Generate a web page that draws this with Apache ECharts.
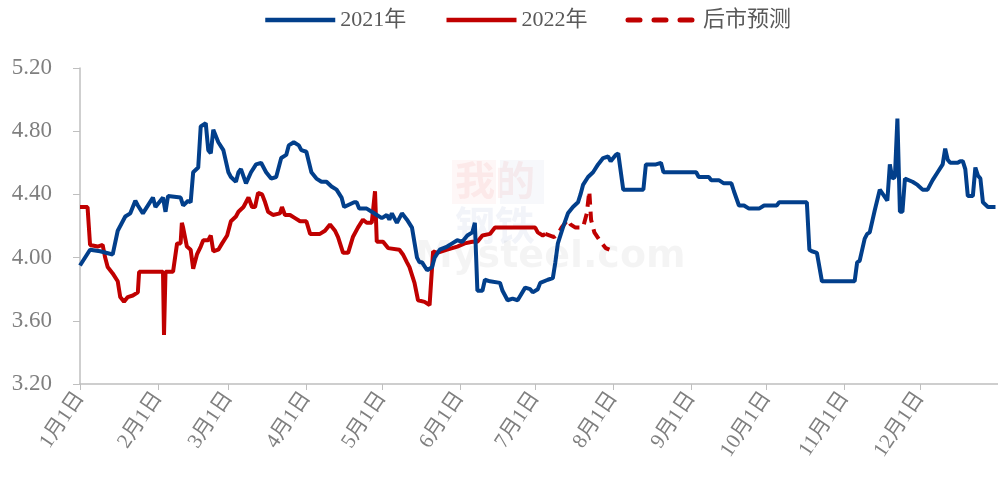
<!DOCTYPE html>
<html>
<head>
<meta charset="utf-8">
<script src="https://cdn.jsdelivr.net/npm/echarts@6/dist/echarts.min.js"></script>
<style>
html,body{margin:0;padding:0;background:#fff;}
#c{width:998px;height:484px;}
</style>
</head>
<body>
<div id="c"></div>
<script>
// x = day of year (0 = 1月1日), y = price
const monthStarts = [0, 31, 59, 90, 120, 151, 181, 212, 243, 273, 304, 334];
const monthLabels = ['1月1日','2月1日','3月1日','4月1日','5月1日','6月1日','7月1日','8月1日','9月1日','10月1日','11月1日','12月1日'];
const yTicks = [3.2, 3.6, 4.0, 4.4, 4.8, 5.2];

const days2021 = [0,4,8,13,15,18,20,22,23,25,29,30,33,34,35,40,41,43,44,45,47,48,50,51,52,53,55,57,59,60,62,63,64,66,68,70,72,74,76,78,80,82,83,85,87,88,90,92,94,96,98,100,102,104,105,109,110,111,114,116,118,120,122,123,124,126,128,130,132,134,135,136,138,140,141,143,146,148,150,152,154,156,157,158,160,161,163,167,168,170,172,174,177,179,180,182,183,186,188,189,190,192,194,196,198,199,200,202,204,206,208,210,211,213,214,216,224,225,229,231,232,245,246,250,251,254,256,259,260,262,264,266,270,272,277,278,289,290,291,293,295,308,309,310,312,313,314,316,318,321,322,323,324,325,326,327,328,331,333,335,337,339,341,343,344,345,346,349,350,351,352,353,355,356,357,358,359,361,364];
const vals2021 = [3.95,4.05,4.04,4.02,4.17,4.26,4.28,4.36,4.33,4.28,4.38,4.32,4.38,4.29,4.39,4.38,4.33,4.36,4.35,4.54,4.57,4.83,4.85,4.68,4.66,4.81,4.73,4.68,4.54,4.51,4.48,4.54,4.56,4.47,4.54,4.59,4.60,4.54,4.50,4.51,4.63,4.65,4.71,4.73,4.71,4.68,4.67,4.54,4.50,4.48,4.48,4.45,4.43,4.38,4.32,4.35,4.35,4.31,4.31,4.29,4.27,4.25,4.27,4.24,4.28,4.22,4.28,4.24,4.19,4.00,3.97,3.97,3.92,3.94,4.00,4.05,4.07,4.09,4.11,4.10,4.14,4.16,4.22,3.79,3.79,3.86,3.85,3.84,3.79,3.73,3.74,3.73,3.81,3.80,3.78,3.80,3.84,3.86,3.87,3.97,4.09,4.19,4.28,4.32,4.35,4.40,4.46,4.51,4.54,4.59,4.63,4.64,4.61,4.65,4.66,4.43,4.43,4.59,4.59,4.60,4.54,4.54,4.51,4.51,4.49,4.49,4.47,4.47,4.42,4.33,4.33,4.31,4.31,4.33,4.33,4.35,4.35,4.05,4.04,4.03,3.85,3.85,3.97,3.98,4.12,4.15,4.16,4.30,4.43,4.36,4.59,4.50,4.51,4.88,4.29,4.29,4.50,4.48,4.46,4.43,4.43,4.49,4.54,4.59,4.69,4.62,4.60,4.60,4.61,4.61,4.56,4.39,4.39,4.57,4.52,4.50,4.35,4.32,4.32];

const days2022 = [0,3,4,7,9,10,11,13,15,16,17.5,19,21,23,23.5,25,33,33.4,34,37,38.6,40,40.5,41,42.5,44,45,46.5,48,49,51,52,53,55,56.5,58.5,60,62,63,65,67,68.4,69.6,70.8,72.4,73.6,74.8,76.7,79.5,80.3,81.5,83.5,85.5,87.5,90,91.5,95.4,97.4,99.4,101.4,102.6,104.6,106.6,108.5,110.5,112.5,114,116,117.3,118,120.5,122.5,127,128.4,130,131,133,134.4,137,139,140.4,142,146,148,150,153,156,158,160,163,165,167,181,182,184,185];
const vals2022 = [4.32,4.32,4.08,4.07,4.08,4.00,3.94,3.90,3.85,3.75,3.72,3.75,3.76,3.78,3.91,3.91,3.91,3.51,3.91,3.91,4.09,4.09,4.22,4.19,4.07,4.05,3.93,4.02,4.07,4.11,4.11,4.14,4.04,4.05,4.09,4.14,4.23,4.26,4.29,4.32,4.38,4.32,4.32,4.41,4.40,4.35,4.29,4.27,4.28,4.32,4.27,4.27,4.25,4.23,4.23,4.15,4.15,4.17,4.21,4.17,4.13,4.03,4.03,4.13,4.19,4.24,4.22,4.22,4.42,4.10,4.10,4.06,4.05,4.02,3.97,3.94,3.84,3.73,3.72,3.70,4.04,4.03,4.05,4.06,4.07,4.09,4.10,4.10,4.14,4.15,4.19,4.19,4.19,4.16,4.14,4.15];

const daysForecast = [185,188.5,190,191.5,194,195,197,200,201.5,202.5,203.2,204.5,207,209,210.5];
const valsForecast = [4.15,4.13,4.15,4.19,4.24,4.21,4.19,4.19,4.28,4.42,4.24,4.16,4.10,4.06,4.05];

const zip = (a, b) => a.map((d, i) => [d, b[i]]);

const BLUE = '#023F8B';
const RED = '#C00000';
const GRAY = '#7f7f7f';
const AXIS = '#bfbfbf';
const FONT = '"Liberation Serif","Noto Sans CJK SC",serif';

const chart = echarts.init(document.getElementById('c'), null, {renderer: 'canvas'});
chart.setOption({
  animation: false,
  backgroundColor: '#fff',
  textStyle: {fontFamily: FONT},
  graphic: [
    {type: 'rect', left: 452, top: 160, shape: {width: 44, height: 44}, style: {fill: 'rgba(220,60,60,0.04)'}},
    {type: 'rect', left: 500, top: 160, shape: {width: 44, height: 44}, style: {fill: 'rgba(40,70,150,0.035)'}},
    {type: 'text', left: 455, top: 160, style: {text: '我的', fill: 'rgba(220,60,60,0.07)', font: 'bold 40px "Noto Sans CJK SC"'}},
    {type: 'text', left: 455, top: 205, style: {text: '钢铁', fill: 'rgba(40,70,150,0.06)', font: 'bold 40px "Noto Sans CJK SC"'}},
    {type: 'text', left: 415, top: 238, style: {text: 'Mysteel.com', fill: 'rgba(0,0,0,0.045)', font: 'bold 38px "DejaVu Sans"'}}
  ],
  legend: {
    left: 258,
    top: 4,
    itemWidth: 70,
    itemHeight: 14,
    itemGap: 38,
    itemStyle: {opacity: 0},
    lineStyle: {width: 4.5},
    textStyle: {fontFamily: FONT, fontSize: 22, color: '#595959'},
    data: [
      {name: '2021年'},
      {name: '2022年'},
      {name: '后市预测', lineStyle: {type: [12, 14], cap: 'round', width: 5}}
    ]
  },
  grid: {left: 80, right: 0, top: 68, bottom: 100, containLabel: false},
  xAxis: {
    type: 'value',
    min: 0,
    max: 365,
    splitLine: {show: false},
    axisLine: {show: true, lineStyle: {color: AXIS, width: 1.5}},
    axisTick: {show: true, length: 6, lineStyle: {color: AXIS, width: 1}, customValues: monthStarts},
    axisLabel: {
      customValues: monthStarts,
      rotate: 56,
      fontSize: 21,
      color: GRAY,
      fontFamily: FONT,
      margin: 10,
      formatter: (v) => monthLabels[monthStarts.indexOf(v)] || ''
    }
  },
  yAxis: {
    type: 'value',
    min: 3.2,
    max: 5.2,
    interval: 0.4,
    splitLine: {show: false},
    axisLine: {show: true, lineStyle: {color: AXIS, width: 1.5}},
    axisTick: {show: true, length: 7, lineStyle: {color: AXIS}},
    axisLabel: {
      fontSize: 23,
      color: GRAY,
      fontFamily: FONT,
      margin: 28,
      formatter: (v) => v.toFixed(2)
    }
  },
  series: [
    {name: '2021年', type: 'line', symbol: 'none', data: zip(days2021, vals2021), lineStyle: {color: BLUE, width: 4}, itemStyle: {color: BLUE}, z: 3},
    {name: '2022年', type: 'line', symbol: 'none', data: zip(days2022, vals2022), lineStyle: {color: RED, width: 4}, itemStyle: {color: RED}, z: 2},
    {name: '后市预测', type: 'line', symbol: 'none', data: zip(daysForecast, valsForecast), lineStyle: {color: RED, width: 4, type: [11, 7]}, itemStyle: {color: RED}, z: 2}
  ]
});
</script>
</body>
</html>
